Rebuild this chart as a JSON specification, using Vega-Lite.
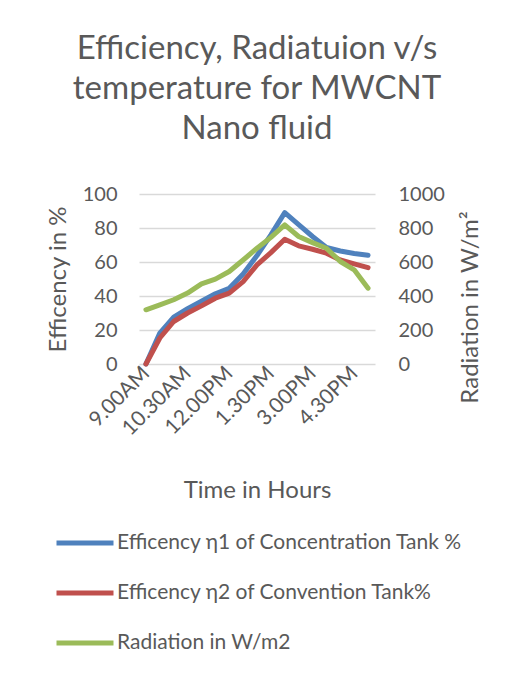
{
  "$schema": "https://vega.github.io/schema/vega-lite/v6.json",
  "width": 236,
  "height": 170,
  "autosize": {"type": "none"},
  "padding": {"left": 139, "top": 194, "right": 140, "bottom": 317},
  "background": "white",
  "title": {
    "text": ["Efficiency, Radiatuion v/s", "temperature for MWCNT", "Nano fluid"],
    "font": "Lato",
    "fontSize": 33,
    "fontWeight": "normal",
    "color": "#595959",
    "anchor": "middle",
    "lineHeight": 40,
    "offset": 38
  },
  "datasets": {
    "eff": [
      {"time": "9.00AM", "series": "Efficency η1 of Concentration Tank %", "value": 0},
      {"time": "9.30AM", "series": "Efficency η1 of Concentration Tank %", "value": 18.2},
      {"time": "10.00AM", "series": "Efficency η1 of Concentration Tank %", "value": 27.5},
      {"time": "10.30AM", "series": "Efficency η1 of Concentration Tank %", "value": 32.5},
      {"time": "11.00AM", "series": "Efficency η1 of Concentration Tank %", "value": 37},
      {"time": "11.30AM", "series": "Efficency η1 of Concentration Tank %", "value": 41.3},
      {"time": "12.00PM", "series": "Efficency η1 of Concentration Tank %", "value": 44.5},
      {"time": "12.30PM", "series": "Efficency η1 of Concentration Tank %", "value": 53},
      {"time": "1.00PM", "series": "Efficency η1 of Concentration Tank %", "value": 63.8},
      {"time": "1.30PM", "series": "Efficency η1 of Concentration Tank %", "value": 76},
      {"time": "2.00PM", "series": "Efficency η1 of Concentration Tank %", "value": 89},
      {"time": "2.30PM", "series": "Efficency η1 of Concentration Tank %", "value": 82},
      {"time": "3.00PM", "series": "Efficency η1 of Concentration Tank %", "value": 75},
      {"time": "3.30PM", "series": "Efficency η1 of Concentration Tank %", "value": 68.5},
      {"time": "4.00PM", "series": "Efficency η1 of Concentration Tank %", "value": 66.5},
      {"time": "4.30PM", "series": "Efficency η1 of Concentration Tank %", "value": 65},
      {"time": "5.00PM", "series": "Efficency η1 of Concentration Tank %", "value": 64},
      {"time": "9.00AM", "series": "Efficency η2 of Convention Tank%", "value": 0},
      {"time": "9.30AM", "series": "Efficency η2 of Convention Tank%", "value": 15.3},
      {"time": "10.00AM", "series": "Efficency η2 of Convention Tank%", "value": 25},
      {"time": "10.30AM", "series": "Efficency η2 of Convention Tank%", "value": 30},
      {"time": "11.00AM", "series": "Efficency η2 of Convention Tank%", "value": 34.2},
      {"time": "11.30AM", "series": "Efficency η2 of Convention Tank%", "value": 38.7},
      {"time": "12.00PM", "series": "Efficency η2 of Convention Tank%", "value": 41.7},
      {"time": "12.30PM", "series": "Efficency η2 of Convention Tank%", "value": 48.5},
      {"time": "1.00PM", "series": "Efficency η2 of Convention Tank%", "value": 58.3},
      {"time": "1.30PM", "series": "Efficency η2 of Convention Tank%", "value": 65.5},
      {"time": "2.00PM", "series": "Efficency η2 of Convention Tank%", "value": 73.4},
      {"time": "2.30PM", "series": "Efficency η2 of Convention Tank%", "value": 69.5},
      {"time": "3.00PM", "series": "Efficency η2 of Convention Tank%", "value": 67.5},
      {"time": "3.30PM", "series": "Efficency η2 of Convention Tank%", "value": 65.2},
      {"time": "4.00PM", "series": "Efficency η2 of Convention Tank%", "value": 61.2},
      {"time": "4.30PM", "series": "Efficency η2 of Convention Tank%", "value": 58.9},
      {"time": "5.00PM", "series": "Efficency η2 of Convention Tank%", "value": 56.7}
    ],
    "rad": [
      {"time": "9.00AM", "series": "Radiation in W/m2", "value": 319},
      {"time": "9.30AM", "series": "Radiation in W/m2", "value": 348},
      {"time": "10.00AM", "series": "Radiation in W/m2", "value": 378},
      {"time": "10.30AM", "series": "Radiation in W/m2", "value": 417},
      {"time": "11.00AM", "series": "Radiation in W/m2", "value": 471},
      {"time": "11.30AM", "series": "Radiation in W/m2", "value": 499},
      {"time": "12.00PM", "series": "Radiation in W/m2", "value": 544},
      {"time": "12.30PM", "series": "Radiation in W/m2", "value": 612},
      {"time": "1.00PM", "series": "Radiation in W/m2", "value": 681},
      {"time": "1.30PM", "series": "Radiation in W/m2", "value": 745},
      {"time": "2.00PM", "series": "Radiation in W/m2", "value": 818},
      {"time": "2.30PM", "series": "Radiation in W/m2", "value": 750},
      {"time": "3.00PM", "series": "Radiation in W/m2", "value": 714},
      {"time": "3.30PM", "series": "Radiation in W/m2", "value": 681},
      {"time": "4.00PM", "series": "Radiation in W/m2", "value": 603},
      {"time": "4.30PM", "series": "Radiation in W/m2", "value": 554},
      {"time": "5.00PM", "series": "Radiation in W/m2", "value": 446}
    ]
  },
  "config": {
    "font": "Lato",
    "view": {"stroke": null},
    "axis": {
      "domain": false,
      "ticks": false,
      "labelColor": "#595959",
      "labelFontSize": 20,
      "labelFont": "Lato",
      "titleColor": "#595959",
      "titleFontSize": 24,
      "titleFont": "Lato",
      "titleFontWeight": "normal",
      "gridColor": "#D9D9D9",
      "gridWidth": 1.5
    },
    "legend": {
      "labelFont": "Lato",
      "labelFontSize": 21,
      "labelColor": "#595959",
      "labelLimit": 500
    }
  },
  "layer": [
    {
      "data": {"name": "eff"},
      "mark": {"type": "line", "strokeWidth": 5, "strokeJoin": "round", "strokeCap": "round"},
      "encoding": {
        "x": {
          "field": "time",
          "type": "nominal",
          "sort": ["9.00AM","9.30AM","10.00AM","10.30AM","11.00AM","11.30AM","12.00PM","12.30PM","1.00PM","1.30PM","2.00PM","2.30PM","3.00PM","3.30PM","4.00PM","4.30PM","5.00PM"],
          "scale": {"type": "point", "padding": 0.5},
          "axis": {
            "values": ["9.00AM","10.30AM","12.00PM","1.30PM","3.00PM","4.30PM"],
            "labelAngle": -45,
            "labelAlign": "right",
            "labelBaseline": "middle",
            "labelPadding": 6,
            "labelFontSize": 21,
            "grid": false,
            "title": "Time in Hours",
            "titleY": 126,
            "titleBaseline": "middle"
          }
        },
        "y": {
          "field": "value",
          "type": "quantitative",
          "scale": {"domain": [0, 100]},
          "axis": {
            "values": [0, 20, 40, 60, 80, 100],
            "title": "Efficency in  %",
            "labelPadding": 22,
            "titleAngle": -90,
            "titleX": -81,
            "titleY": 85,
            "titleAlign": "center",
            "titleBaseline": "middle"
          }
        },
        "color": {
          "field": "series",
          "type": "nominal",
          "scale": {
            "domain": ["Efficency η1 of Concentration Tank %", "Efficency η2 of Convention Tank%", "Radiation in W/m2"],
            "range": ["#4F81BD", "#C0504D", "#9BBB59"]
          },
          "legend": {
            "orient": "none",
            "legendX": -85,
            "legendY": 318,
            "direction": "vertical",
            "title": null,
            "symbolType": "stroke",
            "symbolStrokeWidth": 5,
            "symbolSize": 3249,
            "rowPadding": 9,
            "labelOffset": 1
          }
        }
      }
    },
    {
      "data": {"name": "rad"},
      "mark": {"type": "line", "strokeWidth": 5, "strokeJoin": "round", "strokeCap": "round"},
      "encoding": {
        "x": {
          "field": "time",
          "type": "nominal",
          "sort": ["9.00AM","9.30AM","10.00AM","10.30AM","11.00AM","11.30AM","12.00PM","12.30PM","1.00PM","1.30PM","2.00PM","2.30PM","3.00PM","3.30PM","4.00PM","4.30PM","5.00PM"],
          "scale": {"type": "point", "padding": 0.5}
        },
        "y": {
          "field": "value",
          "type": "quantitative",
          "scale": {"domain": [0, 1000]},
          "axis": {
            "orient": "right",
            "values": [0, 200, 400, 600, 800, 1000],
            "format": "d",
            "grid": false,
            "title": "Radiation in W/m²",
            "labelPadding": 23,
            "titleAngle": -90,
            "titleX": 95,
            "titleY": 113,
            "titleAlign": "center",
            "titleBaseline": "middle"
          }
        },
        "color": {
          "field": "series",
          "type": "nominal"
        }
      }
    }
  ],
  "resolve": {"scale": {"y": "independent"}}
}
